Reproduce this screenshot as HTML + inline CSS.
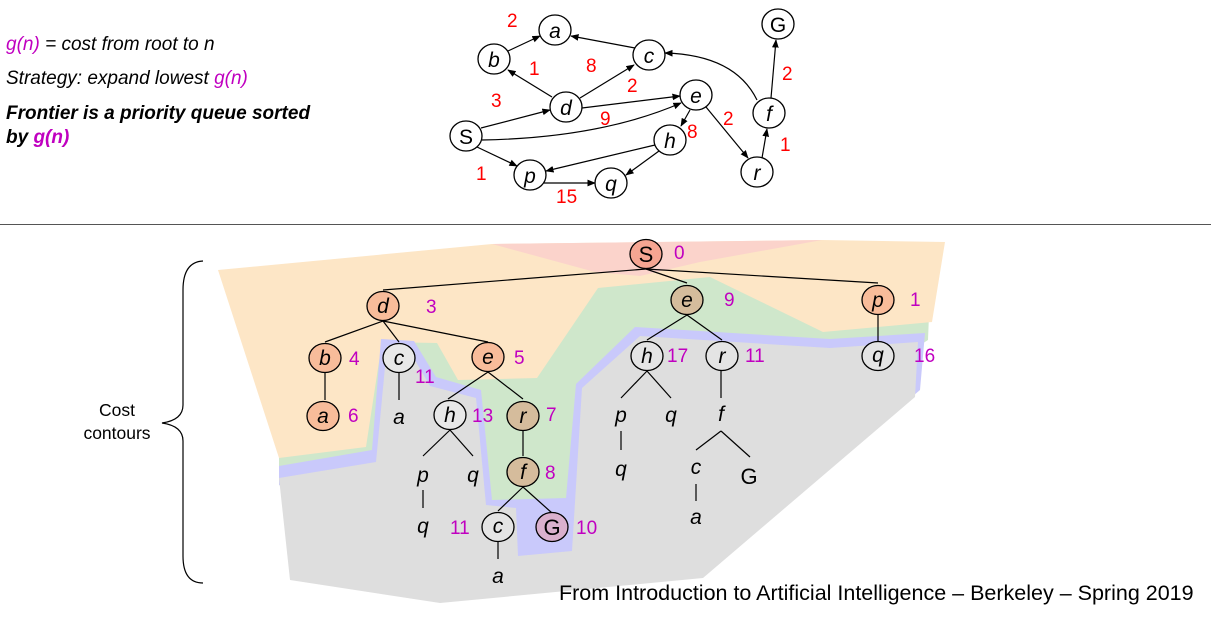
<!DOCTYPE html>
<html><head><meta charset="utf-8"><style>
html,body{margin:0;padding:0;background:#fff;}
svg{display:block;font-family:"Liberation Sans",Arial,sans-serif;}
.t{font-size:19px;font-style:italic;fill:#000;}
.m{fill:#c000c0;}
.w{font-size:19px;fill:#f00;}
.n{font-style:italic;font-size:21px;text-anchor:middle;}
.k{font-size:19px;fill:#c000c0;}
</style></head><body>
<svg width="1211" height="620" viewBox="0 0 1211 620" xmlns="http://www.w3.org/2000/svg">
<defs><marker id="ar" viewBox="0 0 10 10" refX="9" refY="5" markerWidth="7" markerHeight="7" orient="auto"><path d="M0,1 L10,5 L0,9 z" fill="#000"/></marker></defs>
<text class="t" x="6" y="50"><tspan class="m">g(n)</tspan> = cost from root to n</text>
<text class="t" x="6" y="84">Strategy: expand lowest <tspan class="m">g(n)</tspan></text>
<text class="t" x="6" y="119" font-weight="bold">Frontier is a priority queue sorted</text>
<text class="t" x="6" y="143" font-weight="bold">by <tspan class="m">g(n)</tspan></text>
<g stroke="#000" stroke-width="1.2" fill="none" marker-end="url(#ar)">
<line x1="508" y1="51" x2="540" y2="36"/>
<line x1="552" y1="97" x2="508" y2="70"/>
<line x1="580" y1="98" x2="634" y2="65"/>
<line x1="635" y1="48" x2="571" y2="36"/>
<line x1="582" y1="108" x2="680" y2="96"/>
<line x1="481" y1="128" x2="550" y2="110"/>
<path d="M482,140 Q600,138 681,103"/>
<line x1="477" y1="147" x2="517" y2="166"/>
<line x1="655" y1="145" x2="546" y2="171"/>
<line x1="659" y1="151" x2="626" y2="175"/>
<line x1="544" y1="183" x2="595" y2="183"/>
<line x1="690" y1="110" x2="681" y2="126"/>
<line x1="706" y1="107" x2="748" y2="158"/>
<line x1="762" y1="158" x2="767" y2="129"/>
<line x1="771" y1="98" x2="776" y2="40"/>
<path d="M757,100 Q735,55 665,53"/>
</g>
<g fill="#fff" stroke="#000" stroke-width="1.3">
<ellipse cx="555" cy="30" rx="16" ry="15"/><ellipse cx="494" cy="59" rx="16" ry="15"/>
<ellipse cx="649" cy="55" rx="16" ry="15"/><ellipse cx="566" cy="107" rx="16" ry="15"/>
<ellipse cx="696" cy="95" rx="16" ry="15"/><ellipse cx="466" cy="136" rx="16" ry="15"/>
<ellipse cx="670" cy="140" rx="16" ry="15"/><ellipse cx="530" cy="175" rx="16" ry="15"/>
<ellipse cx="611" cy="183" rx="16" ry="15"/><ellipse cx="778" cy="24" rx="16" ry="15"/>
<ellipse cx="769" cy="113" rx="16" ry="15"/><ellipse cx="757" cy="172" rx="16" ry="15"/>
</g>
<g class="n">
<text x="555" y="38">a</text><text x="494" y="67">b</text><text x="649" y="63">c</text>
<text x="566" y="115">d</text><text x="696" y="103">e</text><text x="466" y="144" font-style="normal">S</text>
<text x="670" y="148">h</text><text x="530" y="183">p</text><text x="611" y="191">q</text>
<text x="778" y="32" font-style="normal">G</text><text x="769" y="121">f</text><text x="757" y="180">r</text>
</g>
<g class="w">
<text x="507" y="27">2</text><text x="529" y="75">1</text><text x="586" y="72">8</text>
<text x="627" y="92">2</text><text x="491" y="107">3</text><text x="600" y="125">9</text>
<text x="687" y="138">8</text><text x="723" y="125">2</text><text x="476" y="180">1</text>
<text x="556" y="203">15</text><text x="782" y="80">2</text><text x="780" y="151">1</text>
</g>
<line x1="0" y1="224.5" x2="1211" y2="224.5" stroke="#555" stroke-width="1"/>
<polygon fill="#cfe7cb" points="279,430 380,330 600,270 930,290 928,340 577,560 490,560 279,485"/>
<polygon fill="#fde6c6" points="218,270 492,244 822,240 945,242 932,322 823,332 710,277 598,288 537,378 458,380 437,343 382,342 366,447 279,458"/>
<polygon fill="#fbd3cb" points="492,244 822,240 700,262 640,276 595,272"/>
<polygon fill="#c9c9fb" points="279,466 372,450 381,339 414,341 436,377 481,390 492,500 566,498 576,384 635,327 830,339 925,333 920,390 703,575 600,560 480,560 279,485"/>
<polygon fill="#dedede" points="279,478 376,462 387,346 408,348 430,386 476,398 486,505 516,508 518,556 572,551 582,388 640,336 830,348 918,342 915,397 703,578 440,603 290,580"/>
<path d="M203,261 Q183,262 183,290 L183,405 Q183,420 162,423 Q183,426 183,441 L183,556 Q183,583 203,583" fill="none" stroke="#000" stroke-width="1.2"/>
<text x="117" y="416" font-size="17.5" text-anchor="middle">Cost</text>
<text x="117" y="439" font-size="17.5" text-anchor="middle">contours</text>
<g stroke="#000" stroke-width="1.2">
<line x1="646" y1="269" x2="383" y2="290"/><line x1="646" y1="269" x2="687" y2="283"/><line x1="646" y1="269" x2="878" y2="283"/>
<line x1="383" y1="321" x2="325" y2="342"/><line x1="383" y1="321" x2="399" y2="342"/><line x1="383" y1="321" x2="488" y2="342"/>
<line x1="325" y1="373" x2="325" y2="400"/><line x1="399" y1="373" x2="399" y2="400"/>
<line x1="488" y1="372" x2="448" y2="399"/><line x1="488" y1="372" x2="523" y2="399"/>
<line x1="450" y1="430" x2="423" y2="456"/><line x1="450" y1="430" x2="473" y2="456"/>
<line x1="423" y1="490" x2="423" y2="508"/>
<line x1="523" y1="431" x2="523" y2="456"/>
<line x1="523" y1="487" x2="498" y2="511"/><line x1="523" y1="487" x2="552" y2="513"/>
<line x1="498" y1="542" x2="498" y2="559"/>
<line x1="878" y1="315" x2="878" y2="341"/>
<line x1="687" y1="315" x2="647" y2="340"/><line x1="687" y1="315" x2="722" y2="340"/>
<line x1="647" y1="371" x2="621" y2="398"/><line x1="647" y1="371" x2="671" y2="398"/>
<line x1="621" y1="431" x2="621" y2="450"/>
<line x1="721" y1="371" x2="721" y2="398"/>
<line x1="721" y1="431" x2="696" y2="450"/><line x1="721" y1="431" x2="750" y2="457"/>
<line x1="696" y1="484" x2="696" y2="501"/>
</g>
<g stroke="#000" stroke-width="1.3">
<ellipse cx="646" cy="254" rx="16" ry="14.5" fill="#f5a592"/>
<ellipse cx="383" cy="306" rx="16" ry="14.5" fill="#f8bc9a"/>
<ellipse cx="687" cy="300" rx="16" ry="14.5" fill="#d5bc9c"/>
<ellipse cx="878" cy="300" rx="16" ry="14.5" fill="#f8bc9a"/>
<ellipse cx="878" cy="356" rx="16" ry="14.5" fill="#e4e4e4"/>
<ellipse cx="325" cy="358" rx="16" ry="14.5" fill="#f8bc9a"/>
<ellipse cx="399" cy="358" rx="16" ry="14.5" fill="#e8e8e8"/>
<ellipse cx="488" cy="357" rx="16" ry="14.5" fill="#f8bc9a"/>
<ellipse cx="323" cy="416" rx="16" ry="14.5" fill="#f8bc9a"/>
<ellipse cx="450" cy="415" rx="16" ry="14.5" fill="#e8e8e8"/>
<ellipse cx="523" cy="416" rx="16" ry="14.5" fill="#d5bc9c"/>
<ellipse cx="523" cy="472" rx="16" ry="14.5" fill="#d5bc9c"/>
<ellipse cx="498" cy="527" rx="16" ry="14.5" fill="#e4e4e4"/>
<ellipse cx="552" cy="527" rx="16" ry="14.5" fill="#dab0cd"/>
<ellipse cx="647" cy="356" rx="16" ry="14.5" fill="#e4e4e4"/>
<ellipse cx="722" cy="356" rx="16" ry="14.5" fill="#e4e4e4"/>
</g>
<g class="n" font-size="20">
<text x="646" y="262" font-style="normal" font-size="22">S</text>
<text x="383" y="313">d</text><text x="687" y="307">e</text><text x="878" y="307">p</text><text x="878" y="362">q</text>
<text x="325" y="365">b</text><text x="399" y="365">c</text><text x="488" y="364">e</text>
<text x="323" y="423">a</text><text x="399" y="424">a</text><text x="450" y="422">h</text><text x="523" y="423">r</text>
<text x="523" y="479">f</text><text x="423" y="482">p</text><text x="473" y="482">q</text><text x="423" y="533">q</text>
<text x="498" y="533">c</text><text x="552" y="535" font-style="normal" font-size="22">G</text><text x="498" y="583">a</text>
<text x="647" y="363">h</text><text x="722" y="363">r</text>
<text x="621" y="422">p</text><text x="671" y="422">q</text><text x="621" y="476">q</text>
<text x="721" y="421">f</text><text x="696" y="474">c</text><text x="749" y="484" font-style="normal" font-size="22">G</text>
<text x="696" y="524">a</text>
</g>
<g class="k">
<text x="674" y="259">0</text><text x="426" y="313">3</text><text x="724" y="306">9</text><text x="910" y="306">1</text>
<text x="914" y="362">16</text><text x="349" y="365">4</text><text x="415" y="383">11</text><text x="514" y="364">5</text>
<text x="348" y="422">6</text><text x="472" y="422">13</text><text x="546" y="421">7</text><text x="545" y="479">8</text>
<text x="450" y="534">11</text><text x="576" y="534">10</text><text x="667" y="362">17</text><text x="745" y="362">11</text>
</g>
<text x="559" y="600" font-size="21.5">From Introduction to Artificial Intelligence – Berkeley – Spring 2019</text>
</svg>
</body></html>
